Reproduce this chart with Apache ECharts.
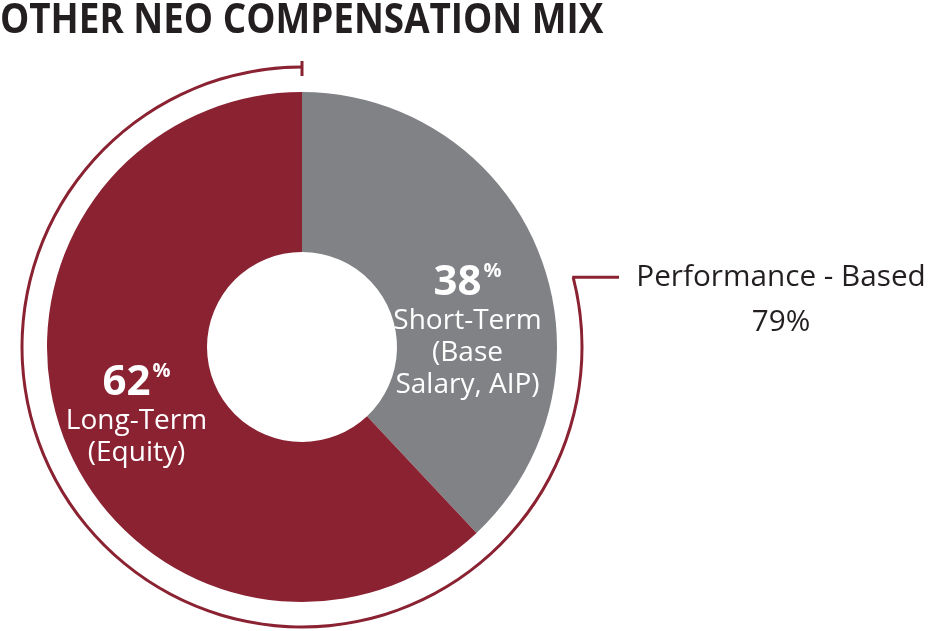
<!DOCTYPE html>
<html><head><meta charset="utf-8">
<script src="https://cdn.jsdelivr.net/npm/echarts@6/dist/echarts.min.js"></script>
<style>html,body{margin:0;padding:0;background:#fff}#c{width:931px;height:631px}</style>
</head><body><div id="c"></div>
<script>
var title = 'OTHER NEO COMPENSATION MIX';
var categories = ['Short-Term (Base Salary, AIP)', 'Long-Term (Equity)'];
var values = [38, 62];
var labelLines = [['Short-Term', '(Base', 'Salary, AIP)'], ['Long-Term', '(Equity)']];
var bracketName = 'Performance - Based';
var bracketValue = 79;

var RED = '#8a2232', GRAY = '#808285';
var cx = 302, cy = 347, rArc = 280;
var chart = echarts.init(document.getElementById('c'), null, {renderer: 'canvas'});

var endAng = (90 + bracketValue / 100 * 360) * Math.PI / 180;
var ex = cx + rArc * Math.cos(endAng), ey = cy - rArc * Math.sin(endAng);

var font = '"Open Sans", sans-serif';
chart.setOption({
  animation: false,
  graphic: [
    {type: 'text', left: 0, top: 1, scaleX: 0.898, style: {text: title, font: 'bold 41px ' + font, fill: '#231f20'}},
    {type: 'line', shape: {x1: cx, y1: 61, x2: cx, y2: 76}, style: {stroke: RED, lineWidth: 3}},
    {type: 'line', shape: {x1: ex - 1, y1: ey, x2: 619, y2: ey}, style: {stroke: RED, lineWidth: 3}},
    {type: 'text', x: 781, y: 300, scaleX: 0.99, style: {text: bracketName + '\n' + bracketValue + '%', font: '30px ' + font, fill: '#231f20', align: 'center', verticalAlign: 'middle', lineHeight: 45}}
  ],
  series: [
    {
      type: 'pie', center: [cx, cy], radius: [95, 255], startAngle: 90, clockwise: true,
      silent: true,
      data: values.map(function (v, i) { return {name: categories[i], value: v, itemStyle: {color: i === 0 ? GRAY : RED}}; }),
      label: {
        show: true, position: 'inner', color: '#fff',
        formatter: function (p) {
          return '{big|' + p.value + '}{sup|%}\n' + labelLines[p.dataIndex].map(function (t) { return '{txt|' + t + '}'; }).join('\n');
        },
        rich: {
          big: {fontSize: 42, fontWeight: 'bold', fontFamily: font, color: '#fff', lineHeight: 44},
          sup: {fontSize: 20, fontWeight: 'bold', fontFamily: font, color: '#fff', verticalAlign: 'top', lineHeight: 44, padding: [0, 0, 16, 2]},
          txt: {fontSize: 28, fontFamily: font, color: '#fff', lineHeight: 32}
        }
      },
      labelLayout: function (p) { return p.dataIndex === 0 ? {dy: 50} : {dy: 3}; },
      labelLine: {show: false}
    },
    {
      type: 'pie', center: [cx, cy], radius: [rArc - 1.5, rArc + 1.5], startAngle: 90, clockwise: false,
      silent: true, label: {show: false},
      data: [
        {name: bracketName, value: bracketValue, itemStyle: {color: RED}},
        {name: 'other', value: 100 - bracketValue, itemStyle: {color: 'rgba(0,0,0,0)'}}
      ]
    }
  ]
});
</script></body></html>
